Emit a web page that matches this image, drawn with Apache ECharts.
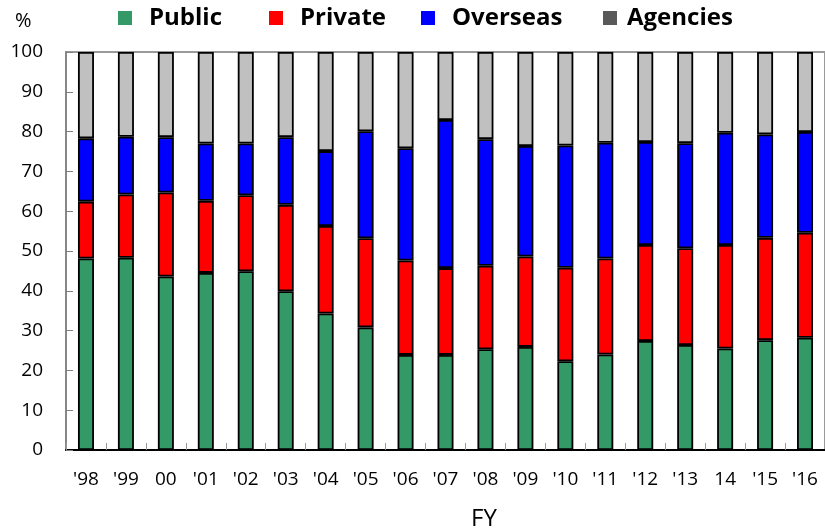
<!DOCTYPE html>
<html>
<head>
<meta charset="utf-8">
<script src="https://cdn.jsdelivr.net/npm/echarts@6/dist/echarts.min.js"></script>
<style>
  html, body { margin: 0; padding: 0; background: #fff; }
  #chart { width: 825px; height: 532px; }
</style>
</head>
<body>
<div id="chart"></div>
<script>
// Fiscal years on the category axis
const years = ["'98", "'99", "00", "'01", "'02", "'03", "'04", "'05", "'06", "'07",
               "'08", "'09", "'10", "'11", "'12", "'13", "14", "'15", "'16"];

// Share of each source, in percent (stacks add to 100)
const publicShare   = [48.1, 48.3, 43.6, 44.5, 44.9, 39.9, 34.3, 30.8, 23.9, 23.9,
                       25.3, 25.9, 22.3, 24.0, 27.4, 26.4, 25.5, 27.6, 28.2];
const privateShare  = [14.3, 15.9, 21.1, 18.1, 19.1, 21.7, 22.0, 22.4, 23.7, 21.8,
                       21.0, 22.7, 23.5, 24.1, 24.1, 24.3, 26.0, 25.7, 26.4];
const overseasShare = [15.9, 14.5, 13.9, 14.4, 13.0, 17.0, 18.8, 26.9, 28.2, 37.2,
                       31.8, 27.8, 30.7, 29.1, 25.9, 26.4, 28.2, 26.0, 25.3];
const agencyShare   = [21.7, 21.3, 21.4, 23.0, 23.0, 21.4, 24.9, 19.9, 24.2, 17.1,
                       21.9, 23.6, 23.5, 22.8, 22.6, 22.9, 20.3, 20.7, 20.1];

const yTicks = { min: 0, max: 100, step: 10 };

const FONT = '"Open Sans", "Noto Sans", sans-serif';

const chart = echarts.init(document.getElementById('chart'), null, { renderer: 'canvas' });

function legendAt(name, left, gap, iconColor) {
  const item = iconColor ? { name: name, itemStyle: { color: iconColor, borderWidth: 0 } } : { name: name };
  return {
    data: [item],
    left: left,
    top: 4,
    padding: 0,
    icon: 'rect',
    itemWidth: 14,
    itemHeight: 14,
    itemStyle: { borderWidth: 0 },
    textStyle: {
      fontFamily: FONT,
      fontSize: 24,
      fontWeight: 'bold',
      color: '#000',
      lineHeight: 28,
      padding: [0, 0, 0, gap]
    }
  };
}

function barSeries(name, data, color) {
  return {
    name: name,
    type: 'bar',
    stack: 'total',
    data: data,
    barWidth: 16,
    itemStyle: { color: color, borderColor: '#000', borderWidth: 1.8 },
    emphasis: { disabled: true }
  };
}

chart.setOption({
  animation: false,
  backgroundColor: '#fff',
  legend: [
    legendAt('Public', 118, 12),
    legendAt('Private', 269, 12),
    legendAt('Overseas', 421, 12),
    legendAt('Agencies', 603, 5, '#595959')
  ],
  grid: {
    left: 66,
    top: 52,
    width: 763,
    height: 398,
    show: true,
    borderColor: '#9a9a9a',
    borderWidth: 2,
    backgroundColor: 'transparent'
  },
  xAxis: {
    type: 'category',
    data: years,
    boundaryGap: true,
    axisLine: { lineStyle: { color: '#000', width: 2 } },
    axisTick: { show: true, inside: true, length: 7, lineStyle: { color: '#999' } },
    axisLabel: { interval: 0, margin: 20, fontFamily: FONT, fontSize: 19, color: '#000' },
    splitLine: { show: false }
  },
  yAxis: {
    type: 'value',
    min: yTicks.min,
    max: yTicks.max,
    interval: yTicks.step,
    axisLine: { show: true, lineStyle: { color: '#808080', width: 1.5 } },
    axisTick: { show: true, inside: true, length: 7, lineStyle: { color: '#808080' } },
    axisLabel: { margin: 23, fontFamily: FONT, fontSize: 19, color: '#000' },
    splitLine: { show: false }
  },
  graphic: [
    { type: 'text', left: 15, top: 11, style: { text: '%', fontFamily: FONT, fontSize: 20, fill: '#000' } },
    { type: 'text', x: 484, y: 519, style: { text: 'FY', fontFamily: FONT, fontSize: 24, fill: '#000', align: 'center', verticalAlign: 'middle' } }
  ],
  series: [
    barSeries('Public', publicShare, '#339966'),
    barSeries('Private', privateShare, '#ff0000'),
    barSeries('Overseas', overseasShare, '#0000ff'),
    barSeries('Agencies', agencyShare, '#c0c0c0')
  ]
});
</script>
</body>
</html>
